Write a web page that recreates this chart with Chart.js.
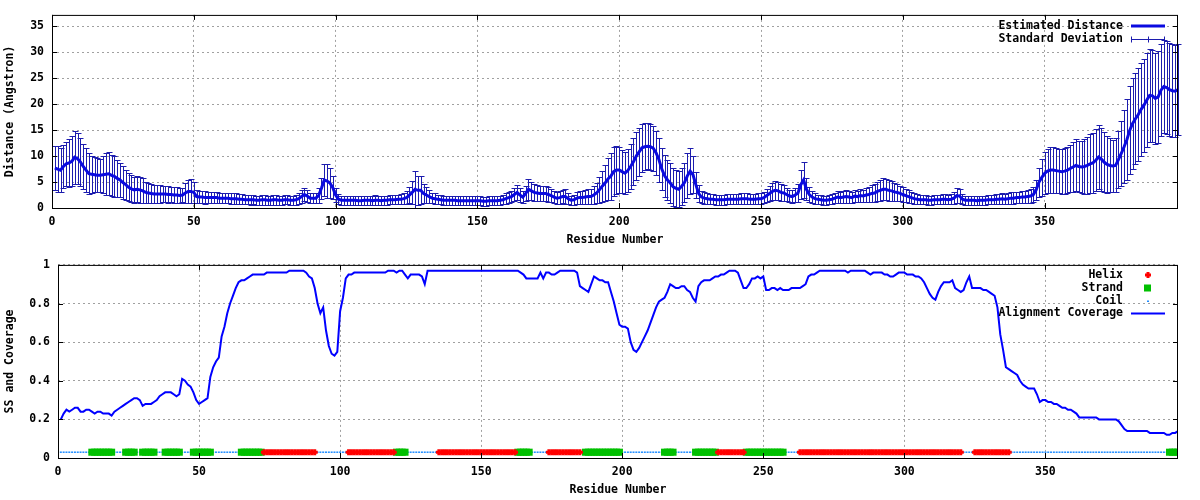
<!DOCTYPE html>
<html>
<head>
<meta charset="utf-8">
<script src="https://cdn.jsdelivr.net/npm/chart.js@4.4.0/dist/chart.umd.min.js"></script>
<style>
  body { margin: 0; background: #fff; }
  .panel { width: 1200px; height: 250px; }
</style>
</head>
<body>
<div class="panel"><canvas id="distChart" width="1200" height="250"></canvas></div>
<div class="panel"><canvas id="ssChart" width="1200" height="250"></canvas></div>
<script>
// residue 1..397, estimated distance (Angstrom)
const meanDistance = [
  7.7, 7.5, 7.3, 8.0, 8.5, 8.7, 9.0, 9.8, 9.5, 8.9,
  8.0, 7.3, 6.6, 6.5, 6.4, 6.3, 6.3, 6.4, 6.5, 6.6,
  6.3, 6.1, 5.7, 5.4, 4.9, 4.5, 4.0, 3.7, 3.5, 3.6,
  3.5, 3.3, 3.0, 2.9, 2.8, 2.7, 2.7, 2.7, 2.7, 2.7,
  2.6, 2.6, 2.5, 2.5, 2.4, 2.5, 2.9, 3.2, 3.2, 3.0,
  2.2, 2.1, 2.1, 2.0, 2.0, 2.0, 2.0, 2.0, 1.9, 1.9,
  1.9, 1.9, 1.8, 1.8, 1.8, 1.7, 1.7, 1.6, 1.6, 1.6,
  1.6, 1.5, 1.5, 1.6, 1.6, 1.5, 1.5, 1.6, 1.6, 1.5,
  1.5, 1.6, 1.6, 1.5, 1.5, 1.6, 1.8, 2.2, 2.6, 2.3,
  1.9, 1.9, 1.9, 2.4, 3.8, 5.4, 5.2, 4.8, 3.9, 2.5,
  1.7, 1.5, 1.5, 1.5, 1.5, 1.5, 1.5, 1.4, 1.4, 1.5,
  1.5, 1.5, 1.4, 1.5, 1.5, 1.4, 1.5, 1.5, 1.6, 1.6,
  1.6, 1.7, 1.7, 1.8, 2.0, 2.5, 3.0, 3.6, 3.4, 3.4,
  2.8, 2.5, 2.2, 1.9, 1.8, 1.7, 1.6, 1.5, 1.5, 1.5,
  1.5, 1.5, 1.4, 1.4, 1.4, 1.4, 1.4, 1.4, 1.4, 1.4,
  1.4, 1.3, 1.3, 1.4, 1.4, 1.4, 1.4, 1.5, 1.6, 1.8,
  2.0, 2.2, 2.6, 3.0, 2.5, 2.1, 2.8, 3.6, 3.3, 3.0,
  2.9, 2.8, 2.8, 2.8, 2.6, 2.4, 2.1, 1.9, 2.0, 2.2,
  2.2, 1.8, 1.5, 1.6, 1.9, 2.0, 2.0, 2.1, 2.2, 2.2,
  2.5, 2.9, 3.5, 4.2, 4.8, 5.6, 6.1, 7.0, 7.3, 7.3,
  7.0, 6.7, 7.2, 8.0, 8.9, 10.0, 10.8, 11.6, 11.8, 11.9,
  11.8, 11.5, 10.6, 9.3, 7.5, 6.2, 5.4, 4.8, 4.1, 3.8,
  3.6, 4.2, 4.9, 6.2, 7.1, 6.4, 4.5, 2.8, 2.1, 1.9,
  1.8, 1.7, 1.7, 1.6, 1.6, 1.6, 1.6, 1.7, 1.7, 1.7,
  1.7, 1.7, 1.8, 1.8, 1.8, 1.7, 1.7, 1.7, 1.8, 1.8,
  2.0, 2.4, 2.8, 3.2, 3.4, 3.3, 3.0, 2.9, 2.6, 2.3,
  2.2, 2.5, 2.9, 4.5, 5.4, 3.6, 2.6, 2.1, 1.8, 1.7,
  1.6, 1.5, 1.5, 1.6, 1.7, 1.9, 2.1, 2.0, 2.1, 2.2,
  2.1, 2.0, 2.3, 2.2, 2.4, 2.3, 2.5, 2.6, 2.8, 2.9,
  3.2, 3.4, 3.6, 3.6, 3.4, 3.3, 3.1, 3.0, 2.8, 2.6,
  2.4, 2.2, 2.0, 1.8, 1.7, 1.6, 1.6, 1.6, 1.5, 1.5,
  1.6, 1.6, 1.6, 1.7, 1.7, 1.6, 1.7, 1.9, 2.4, 2.3,
  1.7, 1.5, 1.5, 1.5, 1.5, 1.4, 1.5, 1.5, 1.5, 1.6,
  1.6, 1.6, 1.7, 1.7, 1.8, 1.7, 1.8, 1.9, 1.9, 2.0,
  2.0, 2.1, 2.1, 2.2, 2.3, 2.6, 3.5, 5.0, 5.9, 6.7,
  7.1, 7.3, 7.3, 7.2, 7.1, 7.0, 7.1, 7.3, 7.6, 7.9,
  8.2, 8.0, 7.9, 8.0, 8.2, 8.5, 8.7, 9.2, 9.8, 9.4,
  8.8, 8.4, 8.2, 8.1, 8.2, 9.3, 10.5, 11.8, 13.2, 15.0,
  16.3, 17.2, 18.0, 19.0, 19.8, 20.8, 21.7, 21.6, 21.1, 21.4,
  22.7, 23.4, 23.2, 22.8, 22.6, 22.5, 22.8
];

const stdDeviation = [
  4.3, 4.4, 4.2, 4.2, 4.3, 4.6, 4.8, 5.1, 4.9, 4.6,
  4.4, 4.2, 3.9, 3.6, 3.4, 3.3, 3.2, 3.6, 4.0, 4.1,
  4.0, 3.9, 3.6, 3.3, 3.1, 2.9, 2.7, 2.6, 2.5, 2.5,
  2.5, 2.4, 2.0, 1.9, 1.8, 1.8, 1.7, 1.7, 1.6, 1.6,
  1.6, 1.5, 1.5, 1.5, 1.4, 1.4, 1.9, 2.2, 2.3, 2.1,
  1.3, 1.2, 1.2, 1.2, 1.1, 1.1, 1.1, 1.1, 1.0, 1.0,
  1.0, 1.0, 1.0, 1.0, 1.0, 1.0, 1.0, 0.9, 0.9, 1.0,
  0.9, 0.9, 0.9, 1.0, 1.0, 0.9, 0.9, 1.0, 1.0, 0.9,
  0.9, 0.9, 0.9, 0.9, 0.9, 1.0, 1.1, 1.3, 1.3, 1.1,
  1.0, 1.0, 1.0, 1.4, 2.0, 3.0, 3.2, 2.9, 2.2, 1.3,
  1.0, 0.9, 0.9, 0.9, 0.9, 0.9, 0.9, 0.9, 0.9, 0.9,
  0.9, 0.9, 0.9, 1.0, 0.9, 0.9, 0.9, 0.9, 0.9, 0.9,
  0.9, 0.9, 1.0, 1.0, 1.2, 1.6, 2.2, 3.6, 2.8, 2.7,
  1.9, 1.5, 1.2, 1.0, 1.0, 0.9, 0.9, 0.9, 0.9, 0.9,
  0.9, 0.9, 0.9, 0.9, 0.9, 0.9, 0.9, 0.9, 0.9, 0.9,
  0.9, 0.9, 0.9, 0.9, 0.9, 0.9, 0.9, 0.9, 0.9, 1.0,
  1.0, 1.1, 1.3, 1.5, 1.4, 1.2, 1.5, 2.0, 1.8, 1.6,
  1.6, 1.5, 1.5, 1.5, 1.4, 1.3, 1.2, 1.1, 1.2, 1.3,
  1.4, 1.1, 0.9, 1.0, 1.1, 1.2, 1.2, 1.3, 1.4, 1.5,
  1.7, 2.0, 2.5, 3.0, 3.5, 4.0, 4.5, 4.7, 4.6, 4.4,
  4.2, 4.0, 4.2, 4.3, 4.5, 4.7, 4.6, 4.6, 4.5, 4.4,
  4.4, 4.3, 4.3, 4.2, 4.1, 4.0, 3.9, 3.8, 3.7, 3.6,
  3.5, 3.6, 3.8, 4.3, 4.4, 3.6, 2.5, 1.6, 1.2, 1.1,
  1.0, 1.0, 1.0, 1.0, 1.0, 1.0, 1.0, 1.0, 1.0, 1.0,
  1.0, 1.0, 1.0, 1.0, 1.0, 1.0, 1.0, 1.0, 1.0, 1.0,
  1.1, 1.3, 1.5, 1.7, 1.8, 1.8, 1.6, 1.5, 1.3, 1.2,
  1.2, 1.4, 1.8, 2.8, 3.4, 2.1, 1.4, 1.1, 1.0, 0.9,
  0.9, 0.9, 0.9, 0.9, 1.0, 1.0, 1.1, 1.0, 1.1, 1.2,
  1.1, 1.1, 1.2, 1.1, 1.3, 1.2, 1.4, 1.4, 1.6, 1.7,
  1.9, 2.0, 2.1, 2.0, 2.0, 1.9, 1.8, 1.6, 1.5, 1.4,
  1.3, 1.2, 1.1, 1.0, 1.0, 0.9, 0.9, 0.9, 0.9, 0.9,
  0.9, 0.9, 0.9, 1.0, 1.0, 0.9, 1.0, 1.1, 1.5, 1.4,
  1.0, 0.9, 0.9, 0.9, 0.9, 0.9, 0.9, 0.9, 0.9, 0.9,
  0.9, 0.9, 1.0, 1.0, 1.0, 1.0, 1.0, 1.1, 1.1, 1.1,
  1.1, 1.2, 1.2, 1.2, 1.3, 1.4, 1.9, 2.8, 3.5, 4.0,
  4.3, 4.4, 4.4, 4.3, 4.3, 4.3, 4.4, 4.5, 4.6, 4.8,
  5.0, 5.0, 5.1, 5.3, 5.5, 5.7, 5.8, 6.0, 6.2, 6.1,
  5.8, 5.5, 5.2, 5.0, 5.2, 5.5, 6.2, 7.0, 7.8, 8.5,
  8.7, 8.8, 8.9, 9.0, 9.0, 9.0, 9.0, 8.9, 8.8, 8.8,
  8.8, 8.9, 9.0, 9.0, 9.0, 8.9, 8.8
];

// alignment coverage per residue
const coverage = [
  0.20, 0.23, 0.25, 0.24, 0.25, 0.26, 0.26, 0.24, 0.24, 0.25,
  0.25, 0.24, 0.23, 0.24, 0.24, 0.23, 0.23, 0.23, 0.22, 0.24,
  0.25, 0.26, 0.27, 0.28, 0.29, 0.30, 0.31, 0.31, 0.30, 0.27,
  0.28, 0.28, 0.28, 0.29, 0.30, 0.32, 0.33, 0.34, 0.34, 0.34,
  0.33, 0.32, 0.33, 0.41, 0.40, 0.38, 0.37, 0.34, 0.30, 0.28,
  0.29, 0.30, 0.31, 0.42, 0.47, 0.50, 0.52, 0.63, 0.68, 0.75,
  0.80, 0.84, 0.88, 0.91, 0.92, 0.92, 0.93, 0.94, 0.95, 0.95,
  0.95, 0.95, 0.95, 0.96, 0.96, 0.96, 0.96, 0.96, 0.96, 0.96,
  0.96, 0.97, 0.97, 0.97, 0.97, 0.97, 0.97, 0.96, 0.94, 0.93,
  0.88, 0.80, 0.75, 0.78, 0.66, 0.58, 0.54, 0.53, 0.55, 0.76,
  0.83, 0.93, 0.95, 0.95, 0.96, 0.96, 0.96, 0.96, 0.96, 0.96,
  0.96, 0.96, 0.96, 0.96, 0.96, 0.96, 0.97, 0.97, 0.97, 0.96,
  0.97, 0.97, 0.95, 0.93, 0.95, 0.95, 0.95, 0.95, 0.94, 0.90,
  0.97, 0.97, 0.97, 0.97, 0.97, 0.97, 0.97, 0.97, 0.97, 0.97,
  0.97, 0.97, 0.97, 0.97, 0.97, 0.97, 0.97, 0.97, 0.97, 0.97,
  0.97, 0.97, 0.97, 0.97, 0.97, 0.97, 0.97, 0.97, 0.97, 0.97,
  0.97, 0.97, 0.97, 0.96, 0.95, 0.93, 0.93, 0.93, 0.93, 0.93,
  0.96, 0.93, 0.96, 0.96, 0.95, 0.95, 0.96, 0.97, 0.97, 0.97,
  0.97, 0.97, 0.97, 0.96, 0.89, 0.88, 0.87, 0.86, 0.90, 0.94,
  0.93, 0.92, 0.92, 0.91, 0.91, 0.86, 0.81, 0.75, 0.69, 0.68,
  0.68, 0.67, 0.60, 0.56, 0.55, 0.57, 0.60, 0.63, 0.66, 0.70,
  0.74, 0.78, 0.81, 0.82, 0.83, 0.86, 0.90, 0.89, 0.88, 0.88,
  0.89, 0.89, 0.87, 0.86, 0.83, 0.81, 0.89, 0.91, 0.92, 0.92,
  0.92, 0.93, 0.94, 0.94, 0.95, 0.95, 0.96, 0.97, 0.97, 0.97,
  0.96, 0.92, 0.88, 0.88, 0.90, 0.93, 0.93, 0.94, 0.93, 0.94,
  0.87, 0.87, 0.88, 0.88, 0.87, 0.88, 0.87, 0.87, 0.87, 0.88,
  0.88, 0.88, 0.88, 0.89, 0.90, 0.94, 0.95, 0.95, 0.96, 0.97,
  0.97, 0.97, 0.97, 0.97, 0.97, 0.97, 0.97, 0.97, 0.97, 0.96,
  0.97, 0.97, 0.97, 0.97, 0.97, 0.97, 0.96, 0.95, 0.96, 0.96,
  0.96, 0.96, 0.95, 0.95, 0.94, 0.94, 0.95, 0.96, 0.96, 0.96,
  0.95, 0.95, 0.95, 0.94, 0.94, 0.93, 0.91, 0.88, 0.85, 0.83,
  0.82, 0.86, 0.89, 0.91, 0.91, 0.91, 0.92, 0.88, 0.87, 0.86,
  0.87, 0.91, 0.94, 0.88, 0.88, 0.88, 0.88, 0.87, 0.87, 0.86,
  0.85, 0.84, 0.78, 0.64, 0.56, 0.47, 0.46, 0.45, 0.44, 0.43,
  0.40, 0.38, 0.37, 0.36, 0.36, 0.36, 0.33, 0.29, 0.30, 0.30,
  0.29, 0.29, 0.28, 0.28, 0.27, 0.26, 0.26, 0.25, 0.25, 0.24,
  0.23, 0.21, 0.21, 0.21, 0.21, 0.21, 0.21, 0.21, 0.20, 0.20,
  0.20, 0.20, 0.20, 0.20, 0.20, 0.19, 0.17, 0.15, 0.14, 0.14,
  0.14, 0.14, 0.14, 0.14, 0.14, 0.14, 0.13, 0.13, 0.13, 0.13,
  0.13, 0.13, 0.12, 0.12, 0.13, 0.13, 0.14
];

// secondary structure segments [first residue, last residue]
const helixRanges = [[73, 91], [103, 119], [135, 162], [174, 185], [234, 243], [263, 320], [325, 337]];
const strandRanges = [[12, 19], [24, 27], [30, 34], [38, 43], [48, 54], [65, 72], [120, 123], [163, 167],
  [187, 199], [215, 218], [226, 233], [244, 257], [394, 397]];
const ssLevel = 0.03;

const residueMax = 397;
const xStep = 50;

const FONT = '"DejaVu Sans Mono", "Liberation Mono", monospace';
Chart.defaults.font.family = FONT;
Chart.defaults.font.size = 11.5;
Chart.defaults.font.weight = 'bold';
Chart.defaults.color = '#000';

const residues = meanDistance.map((v, i) => i + 1);

function inRanges(r, ranges) {
  return ranges.some(([a, b]) => r >= a && r <= b);
}

// gnuplot style border + inward ticks on all four sides
const framePlugin = {
  id: 'frame',
  afterDraw(chart) {
    const { ctx, chartArea: a, scales } = chart;
    ctx.save();
    ctx.strokeStyle = '#000';
    ctx.lineWidth = 1;
    ctx.beginPath();
    scales.x.ticks.forEach(t => {
      const px = Math.round(scales.x.getPixelForValue(t.value)) + 0.5;
      ctx.moveTo(px, a.bottom); ctx.lineTo(px, a.bottom - 5);
      ctx.moveTo(px, a.top); ctx.lineTo(px, a.top + 5);
    });
    scales.y.ticks.forEach(t => {
      const py = Math.round(scales.y.getPixelForValue(t.value)) + 0.5;
      ctx.moveTo(a.left, py); ctx.lineTo(a.left + 5, py);
      ctx.moveTo(a.right, py); ctx.lineTo(a.right - 5, py);
    });
    ctx.stroke();
    ctx.strokeRect(a.left + 0.5, a.top + 0.5, a.right - a.left - 1, a.bottom - a.top);
    ctx.restore();
  }
};

const errorBarPlugin = {
  id: 'errorBars',
  beforeDatasetsDraw(chart) {
    const { ctx, scales: { x, y } } = chart;
    const ds = chart.data.datasets[1];
    ctx.save();
    ctx.strokeStyle = ds.borderColor;
    ctx.lineWidth = 1;
    ctx.beginPath();
    ds.data.forEach(p => {
      const px = Math.round(x.getPixelForValue(p.x)) + 0.5;
      const top = Math.round(y.getPixelForValue(p.y + p.sd)) + 0.5;
      const bot = Math.round(y.getPixelForValue(p.y - p.sd)) + 0.5;
      ctx.moveTo(px, top); ctx.lineTo(px, bot);
      ctx.moveTo(px - 3, top); ctx.lineTo(px + 3, top);
      ctx.moveTo(px - 3, bot); ctx.lineTo(px + 3, bot);
    });
    ctx.stroke();
    ctx.restore();
  }
};

// key drawn like gnuplot: right aligned text, sample on the right
function keyPlugin(rows) {
  return {
    id: 'key',
    afterDraw(chart) {
      const { ctx } = chart;
      ctx.save();
      ctx.font = 'bold 11.5px ' + FONT;
      ctx.textAlign = 'right';
      ctx.textBaseline = 'middle';
      rows.forEach(r => {
        r.sample(ctx, r.y);
        ctx.fillStyle = '#000';
        ctx.fillText(r.label, 1123, r.y);
      });
      ctx.restore();
    }
  };
}

function axisX(title) {
  return {
    type: 'linear', min: 0, max: residueMax,
    grid: { color: '#a0a0a0', drawTicks: false },
    border: { display: false, dash: [2, 3] },
    ticks: { stepSize: xStep, includeBounds: false, padding: 7, maxRotation: 0, autoSkip: false },
    title: { display: true, text: title, padding: { top: 0, bottom: 3 } },
    afterFit(s) { s.height = 42; }
  };
}

// ---------- top panel: distance ----------
const distColor = '#0a0ae0';
const sdColor = '#1c1cae';

new Chart(document.getElementById('distChart'), {
  type: 'line',
  data: {
    datasets: [
      {
        label: 'Estimated Distance',
        data: residues.map((r, i) => ({ x: r, y: meanDistance[i] })),
        borderColor: distColor, borderWidth: 3, pointRadius: 0, tension: 0
      },
      {
        label: 'Standard Deviation',
        data: residues.map((r, i) => ({ x: r, y: meanDistance[i], sd: stdDeviation[i] })),
        borderColor: sdColor, showLine: false, pointRadius: 0
      }
    ]
  },
  options: {
    responsive: false, animation: false,
    layout: { padding: { top: 14, right: 22, left: 0, bottom: 0 } },
    plugins: { legend: { display: false }, tooltip: { enabled: false } },
    scales: {
      x: axisX('Residue Number'),
      y: {
        min: 0, max: 37.2,
        grid: { color: '#a0a0a0', drawTicks: false },
        border: { display: false, dash: [2, 3] },
        ticks: { stepSize: 5, includeBounds: false, padding: 8 },
        title: { display: true, text: 'Distance (Angstron)', padding: { top: 3, bottom: 0 } },
        afterFit(s) { s.width = 52; }
      }
    }
  },
  plugins: [errorBarPlugin, framePlugin, keyPlugin([
    { label: 'Estimated Distance', y: 26, sample(ctx, y) {
      ctx.strokeStyle = distColor; ctx.lineWidth = 3;
      ctx.beginPath(); ctx.moveTo(1131, y); ctx.lineTo(1165, y); ctx.stroke();
    } },
    { label: 'Standard Deviation', y: 39, sample(ctx, y) {
      ctx.strokeStyle = sdColor; ctx.lineWidth = 1;
      const yy = Math.round(y) + 0.5;
      ctx.beginPath();
      ctx.moveTo(1131, yy); ctx.lineTo(1165, yy);
      ctx.moveTo(1131.5, yy - 3); ctx.lineTo(1131.5, yy + 3);
      ctx.moveTo(1164.5, yy - 3); ctx.lineTo(1164.5, yy + 3);
      ctx.moveTo(1148.5, yy - 3); ctx.lineTo(1148.5, yy + 3);
      ctx.stroke();
    } }
  ])]
});

// ---------- bottom panel: secondary structure and coverage ----------
const helixColor = '#ff0000';
const strandColor = '#00c000';
const coilColor = '#1e8cff';
const coverColor = '#0000ff';

new Chart(document.getElementById('ssChart'), {
  type: 'line',
  data: {
    datasets: [
      {
        label: 'Helix',
        data: residues.filter(r => inRanges(r, helixRanges)).map(r => ({ x: r, y: ssLevel })),
        showLine: false, pointStyle: 'cross', pointRadius: 3, pointBorderWidth: 3,
        borderColor: helixColor, backgroundColor: helixColor
      },
      {
        label: 'Strand',
        data: residues.filter(r => inRanges(r, strandRanges)).map(r => ({ x: r, y: ssLevel })),
        showLine: false, pointStyle: 'rect', pointRadius: 5, pointBorderWidth: 0,
        borderColor: strandColor, backgroundColor: strandColor
      },
      {
        label: 'Coil',
        data: residues.filter(r => !inRanges(r, helixRanges) && !inRanges(r, strandRanges)).map(r => ({ x: r, y: ssLevel })),
        showLine: false, pointStyle: 'line', pointRadius: 1, pointBorderWidth: 1.5,
        borderColor: coilColor, backgroundColor: coilColor
      },
      {
        label: 'Alignment Coverage',
        data: residues.map((r, i) => ({ x: r, y: coverage[i] })),
        borderColor: coverColor, borderWidth: 2, pointRadius: 0, tension: 0
      }
    ]
  },
  options: {
    responsive: false, animation: false,
    layout: { padding: { top: 14, right: 22, left: 0, bottom: 0 } },
    plugins: { legend: { display: false }, tooltip: { enabled: false } },
    scales: {
      x: axisX('Residue Number'),
      y: {
        min: 0, max: 1,
        grid: { color: '#a0a0a0', drawTicks: false },
        border: { display: false, dash: [2, 3] },
        ticks: { stepSize: 0.2, includeBounds: false, padding: 8,
          callback: v => String(Number(v.toFixed(1))) },
        title: { display: true, text: 'SS and Coverage', padding: { top: 3, bottom: 0 } },
        afterFit(s) { s.width = 58; }
      }
    }
  },
  plugins: [framePlugin, keyPlugin([
    { label: 'Helix', y: 25, sample(ctx, y) {
      ctx.strokeStyle = helixColor; ctx.lineWidth = 3;
      ctx.beginPath();
      ctx.moveTo(1145, y); ctx.lineTo(1151, y);
      ctx.moveTo(1148, y - 3); ctx.lineTo(1148, y + 3);
      ctx.stroke();
    } },
    { label: 'Strand', y: 38, sample(ctx, y) {
      ctx.fillStyle = strandColor; ctx.fillRect(1144, y - 3.5, 7, 7);
    } },
    { label: 'Coil', y: 51, sample(ctx, y) {
      ctx.fillStyle = coilColor; ctx.fillRect(1147, y - 0.5, 2, 1.5);
    } },
    { label: 'Alignment Coverage', y: 63.5, sample(ctx, y) {
      ctx.strokeStyle = coverColor; ctx.lineWidth = 2;
      ctx.beginPath(); ctx.moveTo(1131, y); ctx.lineTo(1165, y); ctx.stroke();
    } }
  ])]
});
</script>
</body>
</html>
